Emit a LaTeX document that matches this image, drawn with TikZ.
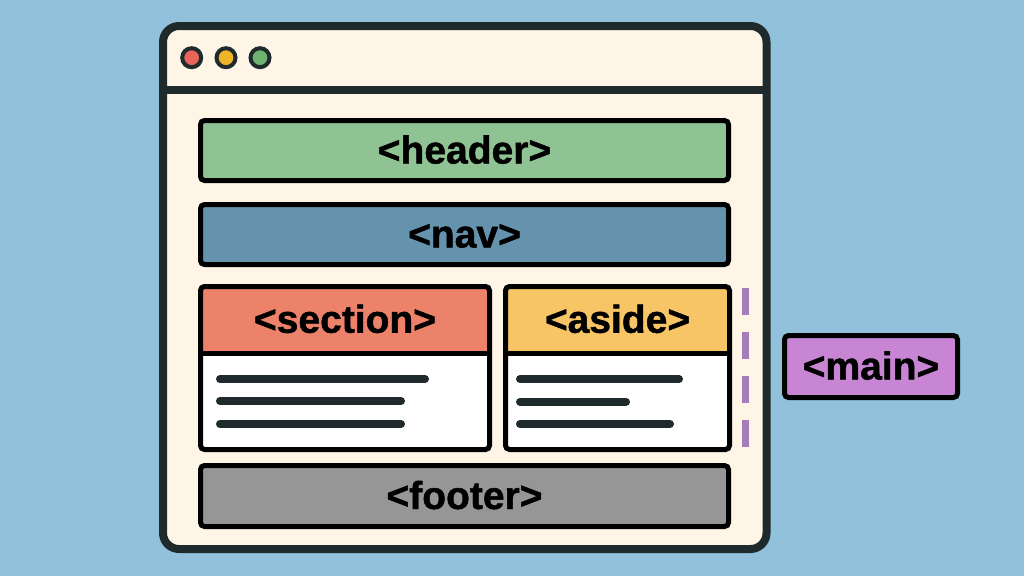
\documentclass[tikz,border=0pt]{standalone}
\usepackage{fontspec}
\setmainfont{Liberation Sans}[BoldFeatures={FakeBold=1.2}]
\definecolor{bg}{HTML}{92C1DC}
\definecolor{win}{HTML}{FEF5E6}
\definecolor{frame}{HTML}{1F2A2C}
\definecolor{hdr}{HTML}{8FC393}
\definecolor{navc}{HTML}{6593AD}
\definecolor{secc}{HTML}{EC826A}
\definecolor{asidec}{HTML}{F7C566}
\definecolor{footc}{HTML}{969696}
\definecolor{mainc}{HTML}{C785D4}
\definecolor{dotr}{HTML}{E8645A}
\definecolor{doty}{HTML}{F0B429}
\definecolor{dotg}{HTML}{6DB36F}
\definecolor{dashc}{HTML}{A67DB8}
\begin{document}
\begin{tikzpicture}[x=1pt,y=-1pt,
  tagbox/.style={draw=black,line width=5pt,rounded corners=4pt,inner sep=0pt,
    font=\fontsize{39}{40}\selectfont\bfseries,text height=28pt,text depth=2pt},
  tagtext/.style={inner sep=0pt,font=\fontsize{39}{40}\selectfont\bfseries,text height=28pt,text depth=2pt},
  txtline/.style={draw=frame,line width=8pt,line cap=round},
  winframe/.style={draw=frame,line width=8pt},
  dot/.style={circle,draw=frame,line width=4pt,minimum size=19pt,inner sep=0pt}]
\useasboundingbox (0,0) rectangle (1024,576);
\fill[bg] (0,0) rectangle (1024,576);
% window
\path[winframe,fill=win,rounded corners=16pt] (163,26) rectangle (766.5,549);
\coordinate (barL) at (163,89.5);
\coordinate (barR) at (766.5,89.5);
\draw[winframe] (barL) -- (barR);
\node[dot,fill=dotr] (d1) at (191.7,57.7) {};
\node[dot,fill=doty] (d2) at (226,57.7) {};
\node[dot,fill=dotg] (d3) at (260,57.7) {};
% header, nav, footer
\node[tagbox,fill=hdr,minimum width=528pt,minimum height=60pt] (header) at (464.5,150.5) {<header>};
\node[tagbox,fill=navc,minimum width=528pt,minimum height=60pt] (nav) at (464.5,234.5) {<nav>};
\node[tagbox,fill=footc,minimum width=528pt,minimum height=61pt] (footer) at (464.5,496) {<footer>};
% section
\fill[white,rounded corners=4pt] (200.5,286.5) rectangle (489.5,449.5);
\fill[secc,rounded corners=4pt] (200.5,286.5) rectangle (489.5,360);
\fill[white] (200.5,353) rectangle (489.5,362);
\draw[line width=5pt] (200.5,353) -- (489.5,353);
\draw[line width=5pt,rounded corners=4pt] (200.5,286.5) rectangle (489.5,449.5);
\node[tagtext] (section) at (345,319.75) {<section>};
\coordinate (s1a) at (220,379); \coordinate (s1b) at (425,379);
\coordinate (s2a) at (220,401); \coordinate (s2b) at (401,401);
\coordinate (s3a) at (220,424); \coordinate (s3b) at (401,424);
\draw[txtline] (s1a) -- (s1b);
\draw[txtline] (s2a) -- (s2b);
\draw[txtline] (s3a) -- (s3b);
% aside
\fill[white,rounded corners=4pt] (505.5,286.5) rectangle (729.5,449.5);
\fill[asidec,rounded corners=4pt] (505.5,286.5) rectangle (729.5,360);
\fill[white] (505.5,353) rectangle (729.5,362);
\draw[line width=5pt] (505.5,353) -- (729.5,353);
\draw[line width=5pt,rounded corners=4pt] (505.5,286.5) rectangle (729.5,449.5);
\node[tagtext] (aside) at (617.5,319.75) {<aside>};
\coordinate (a1a) at (520,379); \coordinate (a1b) at (679,379);
\coordinate (a2a) at (520,401.7); \coordinate (a2b) at (626,401.7);
\coordinate (a3a) at (520,424); \coordinate (a3b) at (670,424);
\draw[txtline] (a1a) -- (a1b);
\draw[txtline] (a2a) -- (a2b);
\draw[txtline] (a3a) -- (a3b);
% dashed main marker
\coordinate (dtop) at (745.7,288);
\coordinate (dbot) at (745.7,447);
\draw[dashc,line width=7pt,dash pattern=on 27pt off 17pt] (dtop) -- (dbot);
% main
\node[tagbox,fill=mainc,minimum width=173pt,minimum height=62pt] (main) at (871,366.5) {<main>};
\end{tikzpicture}
\end{document}
